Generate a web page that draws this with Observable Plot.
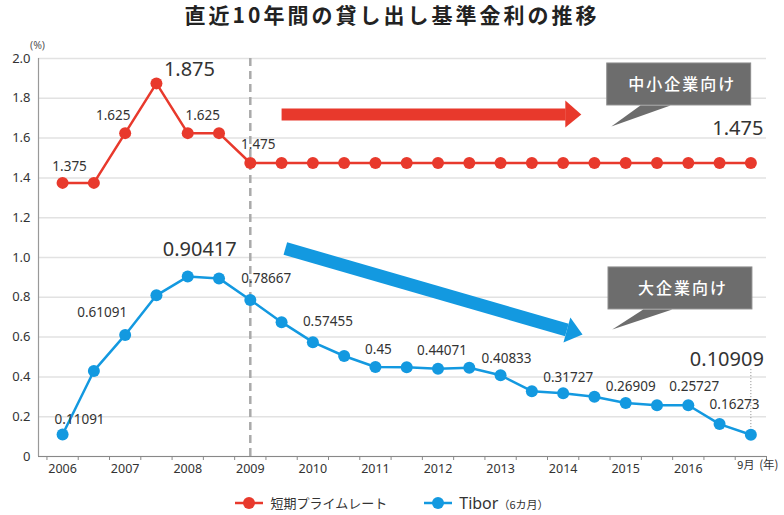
<!DOCTYPE html>
<html><head><meta charset="utf-8">
<script src="https://cdn.jsdelivr.net/npm/d3@7"></script>
<script src="https://cdn.jsdelivr.net/npm/@observablehq/plot@0.6"></script>
<style>
body{margin:0;background:#fff;width:784px;font-family:"Noto Sans","Noto Sans CJK JP",sans-serif;color:#333;}
#title{height:30px;line-height:28px;text-align:center;font-size:21px;font-weight:700;letter-spacing:3px;font-family:"Noto Sans CJK JP",sans-serif;color:#222;overflow:visible;white-space:nowrap;}
#legend{height:25px;display:flex;justify-content:center;align-items:center;gap:37px;}
.item{display:flex;align-items:center;gap:7px;}
.nm{font-family:"Noto Sans CJK JP",sans-serif;font-size:13px;color:#333;}
.nm .big{font-family:"Noto Sans",sans-serif;font-size:16px;}
.nm .small{font-size:11px;}
</style></head><body>
<div id="title">直近10年間の貸し出し基準金利の推移</div>
<div id="chart"></div>
<div id="legend"></div>
<script>
// ---- data ----
const yearLabels = ["2006","2007","2008","2009","2010","2011","2012","2013","2014","2015","2016"];
const lastLabel = "9月";
const unitLabel = "(年)";
const primeRate = [1.375,1.375,1.625,1.875,1.625,1.625,1.475,1.475,1.475,1.475,1.475,1.475,1.475,1.475,1.475,1.475,1.475,1.475,1.475,1.475,1.475,1.475,1.475];
const tibor6m = [0.11091,0.43,0.61091,0.81,0.90417,0.895,0.78667,0.675,0.57455,0.505,0.45,0.449,0.44071,0.446,0.40833,0.328,0.31727,0.30,0.26909,0.258,0.25727,0.16273,0.10909];
const yTicks = [0,0.2,0.4,0.6,0.8,1.0,1.2,1.4,1.6,1.8,2.0];
const seriesNames = ["短期プライムレート","Tibor（6カ月）"];
const callouts = ["中小企業向け","大企業向け"];
const title = "直近10年間の貸し出し基準金利の推移";

// label placement (index, dx, dy, big)
const primeLabels = [[0,7,-16,0],[2,-12,-17,0],[3,33,-14,1],[4,15,-17,0],[6,8,-18,0],[22,-13,-34,1]];
const tiborLabels = [[0,17,-15,0],[2,-23,-22,0],[4,12,-27,1],[6,16,-21,0],[8,15,-20,0],[10,3,-17,0],[12,4,-18,0],[14,6,-17,0],[16,5,-16,0],[18,5,-16,0],[20,6,-19,0],[21,15,-19,0],[22,-24,-75,1]];

const RED = "#e8392c", BLUE = "#1399e0";
const xMin = -0.77, xMax = 22.5;
const n = primeRate.length;
const idx = d3.range(n);
const yearIdx = yearLabels.map((_, i) => i * 2);
const boundaries = d3.range(-0.5, n, 1);

// annotation shapes in data coordinates
const redShaft = [{x1: 7.0, y1: 1.719, x2: 16.08, y2: 1.719}];
const redHead = [[16.07,1.789],[16.58,1.719],[16.07,1.653]];
const blueShaft = [{x1: 7.12, y1: 1.045, x2: 16.12, y2: 0.636}];
const blueHead = [[16.01,0.573],[16.62,0.613],[16.23,0.698]];
const box1 = {x1: 17.41, x2: 22.01, y1: 1.764, y2: 1.975, tail: [[18.47,1.764],[19.43,1.764],[17.54,1.658]], tx: 19.81, ty: 1.869};
const box2 = {x1: 17.45, x2: 22.05, y1: 0.739, y2: 0.950, tail: [[18.56,0.739],[19.49,0.739],[17.57,0.638]], tx: 19.83, ty: 0.844};

document.getElementById("title").textContent = title;

const poly = (pts, fill) => Plot.line(pts, {x: d => d[0], y: d => d[1], fill, stroke: "none", curve: "linear"});
const labelMarks = (series, specs) => specs.map(([i, dx, dy, big]) =>
  Plot.text([i], {x: d => d, y: d => series[d], text: d => String(series[d]), dx, dy,
    fontSize: big ? 20 : 13.5, fill: "#333"}));
const boxMarks = (b, label) => [
  Plot.rect([b], {x1: "x1", x2: "x2", y1: "y1", y2: "y2", fill: "#6d6d6d", stroke: "#8c8c8c", strokeWidth: 1}),
  poly(b.tail, "#6d6d6d"),
  Plot.text([label], {x: () => b.tx, y: () => b.ty, text: d => d, fill: "#fff", fontSize: 16, fontWeight: 500,
    fontFamily: "Noto Sans CJK JP"})
];

const chart = Plot.plot({
  width: 784, height: 460,
  marginTop: 28, marginBottom: 34, marginLeft: 38, marginRight: 18,
  style: {fontFamily: '"Noto Sans","Noto Sans CJK JP",sans-serif', color: "#333", background: "#fff"},
  x: {type: "linear", domain: [xMin, xMax], axis: null},
  y: {domain: [0, 2], axis: null},
  marks: [
    Plot.gridY(yTicks, {stroke: "#e2e2e2", strokeOpacity: 1, strokeWidth: 1.5}),
    Plot.ruleX([xMin], {y1: 0, y2: 2, stroke: "#999", strokeWidth: 1.2}),
    Plot.ruleY([0], {stroke: "#888", strokeWidth: 1.2}),
    Plot.axisX({ticks: boundaries, tickSize: 4, tickFormat: () => "", stroke: "#888", label: null}),
    Plot.axisX({ticks: yearIdx, tickSize: 0, tickPadding: 8, tickFormat: i => yearLabels[i / 2], fontSize: 12.5, fill: "#333", label: null}),
    Plot.axisY({ticks: yTicks, tickSize: 0, tickPadding: 8, tickFormat: d => d === 0 ? "0" : d.toFixed(1), fontSize: 13, fill: "#333", label: null}),
    Plot.text(["(%)"], {x: () => xMin, y: () => 2, text: d => d, dy: -13, dx: -1, fontSize: 10.5, fill: "#555"}),
    Plot.text([lastLabel], {x: () => n - 1, y: () => 0, text: d => d, dy: 9, dx: -5, fontSize: 11, fill: "#333", fontFamily: "Noto Sans CJK JP"}),
    Plot.text([unitLabel], {x: () => n - 1, y: () => 0, text: d => d, dy: 9, dx: 18, fontSize: 11.5, fill: "#333", fontFamily: "Noto Sans CJK JP"}),
    Plot.ruleX([6], {y1: 0, y2: 2, stroke: "#aaa", strokeWidth: 2.5, strokeDasharray: "8,5"}),
    // arrows
    Plot.link(redShaft, {x1: "x1", y1: "y1", x2: "x2", y2: "y2", stroke: RED, strokeWidth: 12, strokeLinecap: "butt"}),
    poly(redHead, RED),
    Plot.link(blueShaft, {x1: "x1", y1: "y1", x2: "x2", y2: "y2", stroke: BLUE, strokeWidth: 13, strokeLinecap: "butt"}),
    poly(blueHead, BLUE),
    ...boxMarks(box1, callouts[0]),
    ...boxMarks(box2, callouts[1]),
    // leader line for last Tibor value
    Plot.ruleX([n - 1], {y1: 0.13, y2: 0.44, stroke: "#888", strokeWidth: 1, strokeDasharray: "1,2"}),
    // series
    Plot.line(idx, {x: d => d, y: d => primeRate[d], stroke: RED, strokeWidth: 2.5}),
    Plot.dot(idx, {x: d => d, y: d => primeRate[d], r: 6, fill: RED}),
    Plot.line(idx, {x: d => d, y: d => tibor6m[d], stroke: BLUE, strokeWidth: 2.5}),
    Plot.dot(idx, {x: d => d, y: d => tibor6m[d], r: 6, fill: BLUE}),
    ...labelMarks(primeRate, primeLabels),
    ...labelMarks(tibor6m, tiborLabels)
  ]
});
d3.select(chart).selectAll("text").filter(function(){ return callouts.includes(this.textContent); })
  .attr("letter-spacing", "2");
document.getElementById("chart").appendChild(chart);

// legend
const legend = d3.select("#legend");
[[seriesNames[0], RED], [seriesNames[1], BLUE]].forEach(([name, color]) => {
  const it = legend.append("div").attr("class", "item");
  const sw = it.append("svg").attr("width", 28).attr("height", 14);
  sw.append("line").attr("x1", 0).attr("x2", 28).attr("y1", 7).attr("y2", 7).attr("stroke", color).attr("stroke-width", 2.5);
  sw.append("circle").attr("cx", 14).attr("cy", 7).attr("r", 6).attr("fill", color);
  const nm = it.append("span").attr("class", "nm");
  const k = name.indexOf("（");
  if (k < 0) nm.text(name);
  else { nm.append("span").attr("class", "big").text(name.slice(0, k)); nm.append("span").attr("class", "small").text(name.slice(k)); }
});
</script></body></html>
